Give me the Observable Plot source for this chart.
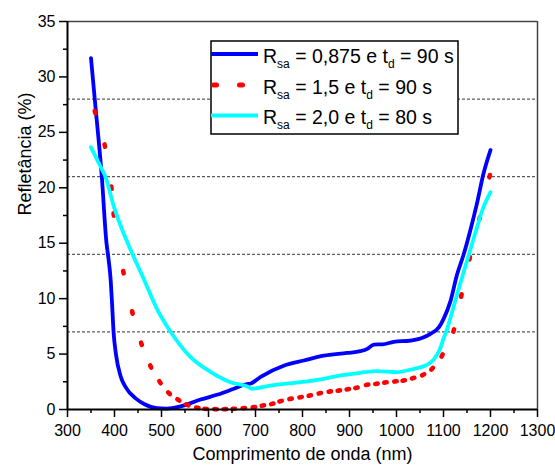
<!DOCTYPE html>
<html>
<head>
<meta charset="utf-8">
<script src="https://cdn.jsdelivr.net/npm/d3@7"></script>
<script src="https://cdn.jsdelivr.net/npm/@observablehq/plot@0.6"></script>
<style>
  body { margin: 0; background: #fff; }
  #chart { width: 555px; height: 470px; }
  svg { font-family: "Liberation Sans", Arial, sans-serif; }
</style>
</head>
<body>
<div id="chart"></div>
<script>
// Reflectance spectra for three Rsa / td conditions
const rsaValues = ["0,875", "1,5", "2,0"];
const tdValues = ["90", "90", "80"];
const seriesColors = ["#0000ff", "#ff0000", "#00ffff"];

const nmA = [350, 358, 373, 383, 386, 392, 395, 398, 403, 413, 424, 445, 463, 490, 510, 526, 550, 583, 620, 654, 682, 690, 711, 760, 803, 845, 895, 923, 938, 952, 970, 994, 1030, 1058, 1072, 1090, 1100, 1115, 1129, 1143, 1157, 1171, 1185, 1200];
const reflA = [31.7, 28.0, 21.0, 15.0, 14.0, 11.6, 9.4, 7.0, 5.0, 3.0, 2.0, 1.0, 0.5, 0.12, 0.08, 0.15, 0.4, 0.9, 1.35, 1.87, 2.3, 2.35, 2.95, 3.95, 4.42, 4.85, 5.1, 5.26, 5.47, 5.86, 5.88, 6.1, 6.22, 6.52, 6.83, 7.4, 8.15, 9.8, 12.2, 14.0, 16.15, 18.55, 21.26, 23.4];

// dotted series: one entry per dot
const nmB = [358.7, 379.3, 393.5, 398.4, 419, 438, 457.3, 477, 496.8, 516, 535.9, 555, 576.3, 594, 615, 635, 654, 675, 696.6, 715.7, 735.7, 753.4, 774.6, 795.9, 815.6, 836.9, 858.1, 877.3, 896.4, 914.9, 937.6, 957.4, 976.5, 997.8, 1015.4, 1035.4, 1056.6, 1075.8, 1097, 1121.7, 1138, 1155.7, 1177, 1198.2];
const reflB = [26.82, 23.81, 20.0, 17.59, 12.39, 8.75, 5.93, 3.88, 2.46, 1.47, 0.87, 0.42, 0.15, 0.06, 0.03, 0.03, 0.06, 0.12, 0.21, 0.36, 0.51, 0.75, 0.96, 1.11, 1.26, 1.47, 1.62, 1.71, 1.83, 1.96, 2.23, 2.32, 2.44, 2.53, 2.62, 2.83, 3.13, 3.67, 4.87, 7.13, 10.28, 13.65, 17.26, 21.05];

const nmC = [350, 371, 381, 399, 417, 438, 464, 490, 520, 562, 605, 647, 683, 692, 732, 796, 845, 881, 923, 959, 1001, 1037, 1062, 1079, 1093, 1100, 1108, 1115, 1129, 1150, 1171, 1185, 1200];
const reflC = [23.65, 21.85, 20.96, 18.25, 16.15, 14.05, 11.6, 9.1, 6.97, 4.72, 3.37, 2.46, 2.07, 1.87, 2.16, 2.46, 2.77, 3.07, 3.31, 3.46, 3.37, 3.67, 3.97, 4.5, 5.5, 6.4, 7.3, 8.3, 10.4, 13.4, 16.4, 18.25, 19.6];

const guideLevels = [7, 14, 21, 28];
const xTicks = [300, 400, 500, 600, 700, 800, 900, 1000, 1100, 1200, 1300];
const yTicks = [0, 5, 10, 15, 20, 25, 30, 35];

const W = 555, H = 470, mL = 67, mR = 18, mT = 21, mB = 61;
const xDomain = [300, 1300], yDomain = [0, 35];
const kx = (W - mL - mR) / (xDomain[1] - xDomain[0]);
const ky = (H - mT - mB) / (yDomain[1] - yDomain[0]);

const rows = (nm, refl) => nm.map((w, i) => ({nm: w, r: refl[i]}));
const dataA = rows(nmA, reflA);
const dataC = rows(nmC, reflC);
// each dot is oriented along the local direction of the curve
const dataB = nmB.map((w, i) => {
  const a = Math.max(0, i - 1), b = Math.min(nmB.length - 1, i + 1);
  const dx = (nmB[b] - nmB[a]) * kx, dy = -(reflB[b] - reflB[a]) * ky;
  return {nm: w, r: reflB[i], angle: Math.atan2(dy, dx) * 180 / Math.PI};
});

// small capsule used for the dotted curve
const capsule = {
  draw(context) {
    const a = 1.2, w = 2.3;
    context.moveTo(-a, -w);
    context.lineTo(a, -w);
    context.arc(a, 0, w, -Math.PI / 2, Math.PI / 2);
    context.lineTo(-a, w);
    context.arc(-a, 0, w, Math.PI / 2, 3 * Math.PI / 2);
    context.closePath();
  }
};

const font = "Liberation Sans, Arial, sans-serif";
const fmt = d => String(d);

const chart = Plot.plot({
  width: W,
  height: H,
  marginLeft: mL,
  marginRight: mR,
  marginTop: mT,
  marginBottom: mB,
  style: {fontFamily: font, background: "#fff", color: "#000"},
  x: {domain: xDomain},
  y: {domain: yDomain},
  marks: [
    Plot.ruleY(guideLevels, {stroke: "#333", strokeWidth: 1, strokeDasharray: "3,2"}),
    Plot.line(dataA, {x: "nm", y: "r", stroke: seriesColors[0], strokeWidth: 3.8, curve: "monotone-x"}),
    Plot.dot(dataB, {x: "nm", y: "r", rotate: "angle", symbol: capsule, r: 3, fill: seriesColors[1], stroke: "none"}),
    Plot.line(dataC, {x: "nm", y: "r", stroke: seriesColors[2], strokeWidth: 3.8, curve: "monotone-x"}),
    // frame: dark top/right edges, black axes
    Plot.ruleY([35], {stroke: "#444", strokeWidth: 1.5}),
    Plot.ruleX([1300], {stroke: "#444", strokeWidth: 1.5}),
    Plot.ruleX([300], {stroke: "#000", strokeWidth: 2}),
    Plot.ruleY([0], {stroke: "#000", strokeWidth: 2}),
    Plot.axisX({ticks: xTicks, tickFormat: fmt, tickSize: 8, tickPadding: 7, fontSize: 16, strokeWidth: 1.5, label: null}),
    Plot.axisX({ticks: d3.range(350, 1300, 100), tickSize: 4, strokeWidth: 1.5, text: null, label: null}),
    Plot.axisY({ticks: yTicks, tickFormat: fmt, tickSize: 8, tickPadding: 4, fontSize: 16, strokeWidth: 1.5, label: null}),
    Plot.axisY({ticks: d3.range(2.5, 35, 5), tickSize: 4, strokeWidth: 1.5, text: null, label: null}),
    Plot.text(["Comprimento de onda (nm)"], {frameAnchor: "bottom", dy: 50, fontSize: 18, fill: "#000"}),
    Plot.text(["Refletância (%)"], {frameAnchor: "left", dx: -42, rotate: -90, fontSize: 18, fill: "#000"})
  ]
});

// Legend box inside the plotting area
const svg = d3.select(chart);
const legend = svg.append("g").attr("text-anchor", "start");
legend.append("rect")
  .attr("x", 211).attr("y", 41).attr("width", 247).attr("height", 93)
  .attr("fill", "#fff").attr("stroke", "#000").attr("stroke-width", 1.5);

const rowY = [54, 85, 115.5];
rsaValues.forEach((rsa, i) => {
  const y = rowY[i];
  const sample = legend.append("line")
    .attr("x1", i === 1 ? 213.5 : 211).attr("x2", 258)
    .attr("y1", y).attr("y2", y)
    .attr("stroke", seriesColors[i]);
  if (i === 1) {
    sample.attr("stroke-width", 5).attr("stroke-dasharray", "3,23").attr("stroke-linecap", "round");
  } else {
    sample.attr("stroke-width", 4);
  }
  const t = legend.append("text")
    .attr("x", 263).attr("y", y + 8.5)
    .attr("font-size", 19.5).attr("fill", "#000");
  t.append("tspan").text("R");
  t.append("tspan").attr("font-size", 12).attr("dy", 5).text("sa");
  t.append("tspan").attr("dy", -5).text(` = ${rsa} e t`);
  t.append("tspan").attr("font-size", 12).attr("dy", 5).text("d");
  t.append("tspan").attr("dy", -5).text(` = ${tdValues[i]} s`);
});

document.getElementById("chart").appendChild(chart);
</script>
</body>
</html>
